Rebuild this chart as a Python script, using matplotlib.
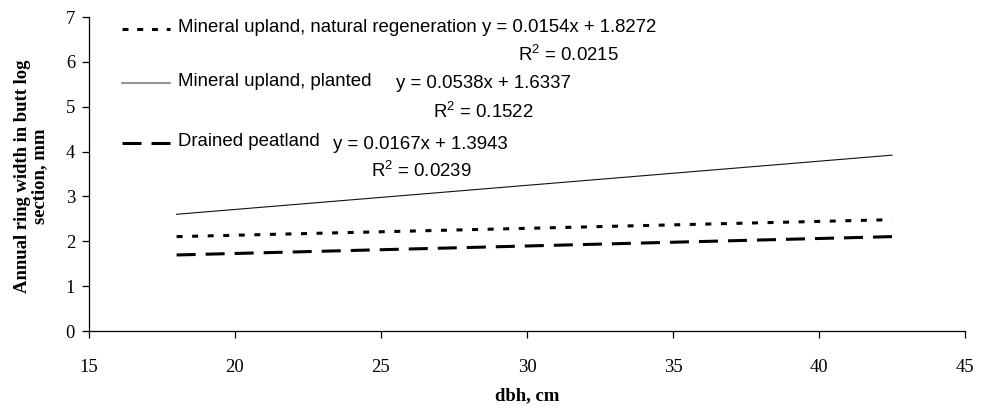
import matplotlib
matplotlib.use("Agg")
import matplotlib.pyplot as plt
from matplotlib.lines import Line2D

plt.rcParams['lines.scale_dashes'] = False
plt.rcParams['mathtext.fontset'] = 'custom'
plt.rcParams['mathtext.rm'] = 'Liberation Sans'
plt.rcParams['mathtext.it'] = 'Liberation Sans:italic'
plt.rcParams['mathtext.bf'] = 'Liberation Sans:bold'

# Data (trend lines, endpoints)
dbh_range = [18.0, 42.5]
natural_y = [2.104, 2.482]
planted_y = [2.602, 3.920]
drained_y = [1.695, 2.104]

series_names = ["Mineral upland, natural regeneration",
                "Mineral upland, planted",
                "Drained peatland"]
equations = ["y = 0.0154x + 1.8272", "y = 0.0538x + 1.6337", "y = 0.0167x + 1.3943"]
r2_values = ["0.0215", "0.1522", "0.0239"]

xticks = [15, 20, 25, 30, 35, 40, 45]
yticks = [0, 1, 2, 3, 4, 5, 6, 7]

W, H = 986, 408
fig = plt.figure(figsize=(W / 100, H / 100), dpi=100)
L, R, T, B = 89, 965, 17, 331
ax = fig.add_axes([L / W, 1 - B / H, (R - L) / W, (B - T) / H])

nat_style = dict(color='black', lw=2.2, linestyle=(0, (4.3, 6.9)), dash_capstyle='butt', solid_capstyle='butt')
pla_style = dict(color='#111111', lw=0.8, linestyle='-')
dra_style = dict(color='black', lw=2.2, linestyle=(0, (13.7, 7.2)), dash_capstyle='butt')

ax.plot(dbh_range, natural_y, **nat_style)
ax.plot(dbh_range, planted_y, **pla_style)
ax.plot(dbh_range, drained_y, **dra_style)

ax.set_xlim(15, 45)
ax.set_ylim(0, 7)
ax.set_xticks(xticks)
ax.set_yticks(yticks)
for s in ['top', 'right']:
    ax.spines[s].set_visible(False)
for s in ['left', 'bottom']:
    ax.spines[s].set_linewidth(0.9)
ax.tick_params(axis='both', direction='out', length=5, width=0.9, labelsize=13.4)
ax.tick_params(axis='x', pad=15)
ax.tick_params(axis='y', pad=5)
for lab in ax.get_xticklabels() + ax.get_yticklabels():
    lab.set_fontfamily('Liberation Serif')

fig.text(31 / W, 1 - 176 / H, "Annual ring width in butt log\nsection, mm", rotation=90,
         ha='center', va='center', fontfamily='Liberation Serif', fontweight='bold',
         fontsize=13.4, linespacing=1.0)
fig.text(527 / W, 1 - 396 / H, "dbh, cm", ha='center', va='center',
         fontfamily='Liberation Serif', fontweight='bold', fontsize=13.4)

# Legend (drawn manually)
def px(x, y):
    return x / W, 1 - y / H

rows_y = [29, 83, 143]
styles = [dict(color='black', lw=2.2, linestyle=(0, (4.3, 6.3)), dash_capstyle='butt'),
          dict(color='#808080', lw=1.2, linestyle='-'),
          dict(color='black', lw=2.2, linestyle=(0, (13.7, 7.2)), dash_capstyle='butt')]
for name, yy, st in zip(series_names, rows_y, styles):
    x0, y0 = px(122, yy)
    x1, _ = px(170, yy)
    fig.add_artist(Line2D([x0, x1], [y0, y0], transform=fig.transFigure, **st))
    fig.text(*px(178, yy - 1), name, ha='left', va='center', fontfamily='Liberation Sans', fontsize=13.4)

tf = dict(fontfamily='Liberation Sans', fontsize=13.4, va='center')
fig.text(*px(482, 28), equations[0], ha='left', **tf)
fig.text(*px(568, 55), "R$^2$ = " + r2_values[0], ha='center', **tf)
fig.text(*px(396, 84), equations[1], ha='left', **tf)
fig.text(*px(483, 112), "R$^2$ = " + r2_values[1], ha='center', **tf)
fig.text(*px(333, 144), equations[2], ha='left', **tf)
fig.text(*px(421, 171), "R$^2$ = " + r2_values[2], ha='center', **tf)

fig.savefig("out.png", dpi=100)
